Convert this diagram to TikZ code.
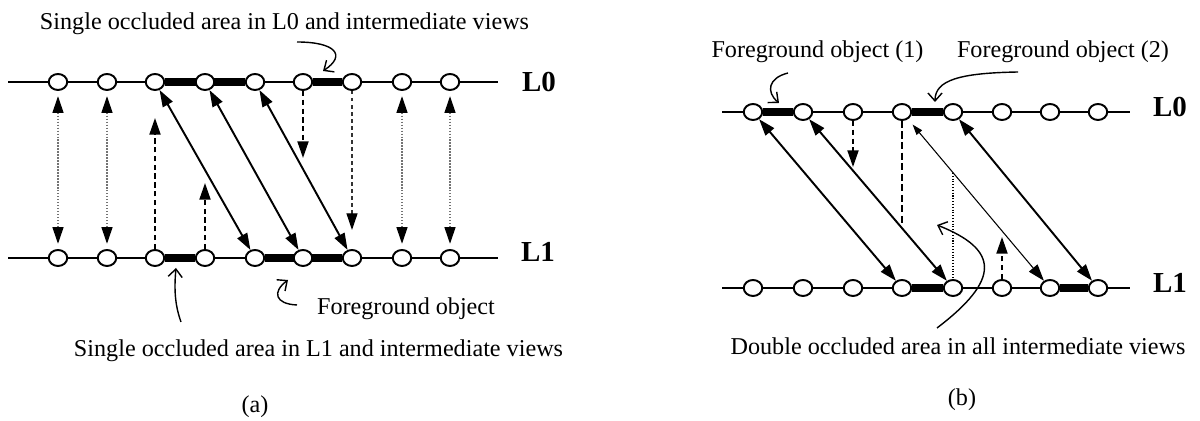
\documentclass[tikz,border=0pt]{standalone}
\usepackage{fontspec}
\setmainfont{Liberation Serif}
\usetikzlibrary{arrows.meta,shapes.geometric,backgrounds}
\begin{document}
\begin{tikzpicture}[x=0.02cm,y=-0.02cm,
  >={Triangle[length=9.5pt,width=6.3pt,black]},
  pix/.style={draw,ellipse,line width=1.1pt,fill=white,inner sep=0pt,minimum width=0.37cm,minimum height=0.32cm},
  baseln/.style={line width=1.2pt},
  occl/.style={line width=4pt},
  dotarr/.style={<->,densely dotted,black!55,line width=0.7pt,shorten <=3pt,shorten >=3pt},
  diag/.style={<->,line width=1.1pt},
  thindiag/.style={{Triangle[length=6pt,width=4pt]}->,line width=0.6pt,shorten <=4pt},
  dashup/.style={->,dash pattern=on 3pt off 2pt,line width=1pt},
  dashlight/.style={->,dash pattern=on 2pt off 2pt,line width=0.6pt,black!80},
  dashline/.style={dash pattern=on 4pt off 2pt,line width=1pt},
  dotline/.style={densely dotted,line width=0.6pt},
  ann/.style={-{Straight Barb[length=4.5pt,width=8pt]},line width=0.8pt},
  txt/.style={anchor=base,inner sep=0pt,font=\fontsize{13.75}{16}\selectfont},
  lab/.style={anchor=base,inner sep=0pt,font=\fontsize{16.5}{19}\selectfont\bfseries}
]
\useasboundingbox (0,0) rectangle (1200,421);
% ---------- nodes (a)
\foreach \x [count=\i] in {58,107,155,205,255,303,352,402,450}{
  \node[pix] (a0-\i) at (\x,82) {};
  \node[pix] (a1-\i) at (\x,258) {};
}
% ---------- nodes (b)
\foreach \x [count=\i] in {753,803,853,902,953,1002,1050,1098}{
  \node[pix] (b0-\i) at (\x,112) {};
  \node[pix] (b1-\i) at (\x,288) {};
}
\coordinate (a0L) at (8,82);   \coordinate (a0R) at (498,82);
\coordinate (a1L) at (8,258);  \coordinate (a1R) at (498,258);
\coordinate (b0L) at (722,112); \coordinate (b0R) at (1130,112);
\coordinate (b1L) at (722,288); \coordinate (b1R) at (1130,288);
\begin{scope}[on background layer]
  \fill[white] (0,0) rectangle (1200,421);
  \draw[baseln] (a0L) -- (a0R);
  \draw[baseln] (a1L) -- (a1R);
  \draw[baseln] (b0L) -- (b0R);
  \draw[baseln] (b1L) -- (b1R);
  \draw[occl] (a0-3) -- (a0-5);
  \draw[occl] (a0-6) -- (a0-7);
  \draw[occl] (a1-3) -- (a1-4);
  \draw[occl] (a1-5) -- (a1-7);
  \draw[occl] (b0-1) -- (b0-2);
  \draw[occl] (b0-4) -- (b0-5);
  \draw[occl] (b1-4) -- (b1-5);
  \draw[occl] (b1-7) -- (b1-8);
\end{scope}
% ---------- labels
\node[lab] (la0) at (539,92) {L0};
\node[lab] (la1) at (538,262) {L1};
\node[lab] (lb0) at (1170,117) {L0};
\node[lab] (lb1) at (1170,293) {L1};
\node[txt] (ta) at (284.5,30) {Single occluded area in L0 and intermediate views};
\node[txt] (ba) at (318.5,357) {Single occluded area in L1 and intermediate views};
\node[txt] (fa) at (406,315) {Foreground object};
\node[txt] (capa) at (255,413) {(a)};
\node[txt] (f1) at (817.5,58) {Foreground object (1)};
\node[txt] (f2) at (1063,58) {Foreground object (2)};
\node[txt] (db) at (958,355) {Double occluded area in all intermediate views};
\node[txt] (capb) at (962,406) {(b)};
% ---------- arrows (a)
\foreach \i in {1,2,8,9}{ \draw[dotarr] (a0-\i) -- (a1-\i); }
\coordinate (a3t) at (155,118); \draw[dashup] (a1-3) -- (a3t);
\coordinate (a4t) at (205,183); \draw[dashup] (a1-4) -- (a4t);
\coordinate (a6t) at (303,158); \draw[dashup] (a0-6) -- (a6t);
\coordinate (a7t) at (352,230); \draw[dashlight] (a0-7) -- (a7t);
\draw[diag] (a0-3) -- (a1-5);
\draw[diag] (a0-4) -- (a1-6);
\draw[diag] (a0-5) -- (a1-7);
% ---------- arrows (b)
\draw[diag] (b0-1) -- (b1-4);
\draw[diag] (b0-2) -- (b1-5);
\draw[diag] (b0-5) -- (b1-8);
\draw[thindiag] (b0-4) -- (b1-7);
\coordinate (b3t) at (853,167); \draw[dashup] (b0-3) -- (b3t);
\coordinate (b4t) at (902,225); \draw[dashline] (b0-4) -- (b4t);
\coordinate (b6t) at (1002,237); \draw[dashup] (b1-6) -- (b6t);
\coordinate (b5t) at (953,173); \draw[dotline] (b5t) -- (b1-5);
% ---------- annotation arrows
\coordinate (c1s) at (297,42); \coordinate (c1e) at (323,71);
\draw[ann] (c1s) .. controls (335,42) and (347,55) .. (c1e);
\coordinate (c2s) at (181,322); \coordinate (c2e) at (176,268);
\draw[ann] (c2s) .. controls (175,305) and (174,290) .. (c2e);
\coordinate (c3s) at (297,305); \coordinate (c3e) at (288,280);
\draw[ann] (c3s) .. controls (275,304) and (272,292) .. (c3e);
\coordinate (c4s) at (788,73); \coordinate (c4e) at (779,103);
\draw[ann] (c4s) .. controls (768,78) and (766,92) .. (c4e);
\coordinate (c5s) at (1018,72); \coordinate (c5e) at (935,102);
\draw[ann] (c5s) .. controls (960,73) and (935,80) .. (c5e);
\coordinate (c6s) at (937,328); \coordinate (c6e) at (937,225);
\draw[ann] (c6s) .. controls (1000,280) and (1000,250) .. (c6e);
\end{tikzpicture}
\end{document}
